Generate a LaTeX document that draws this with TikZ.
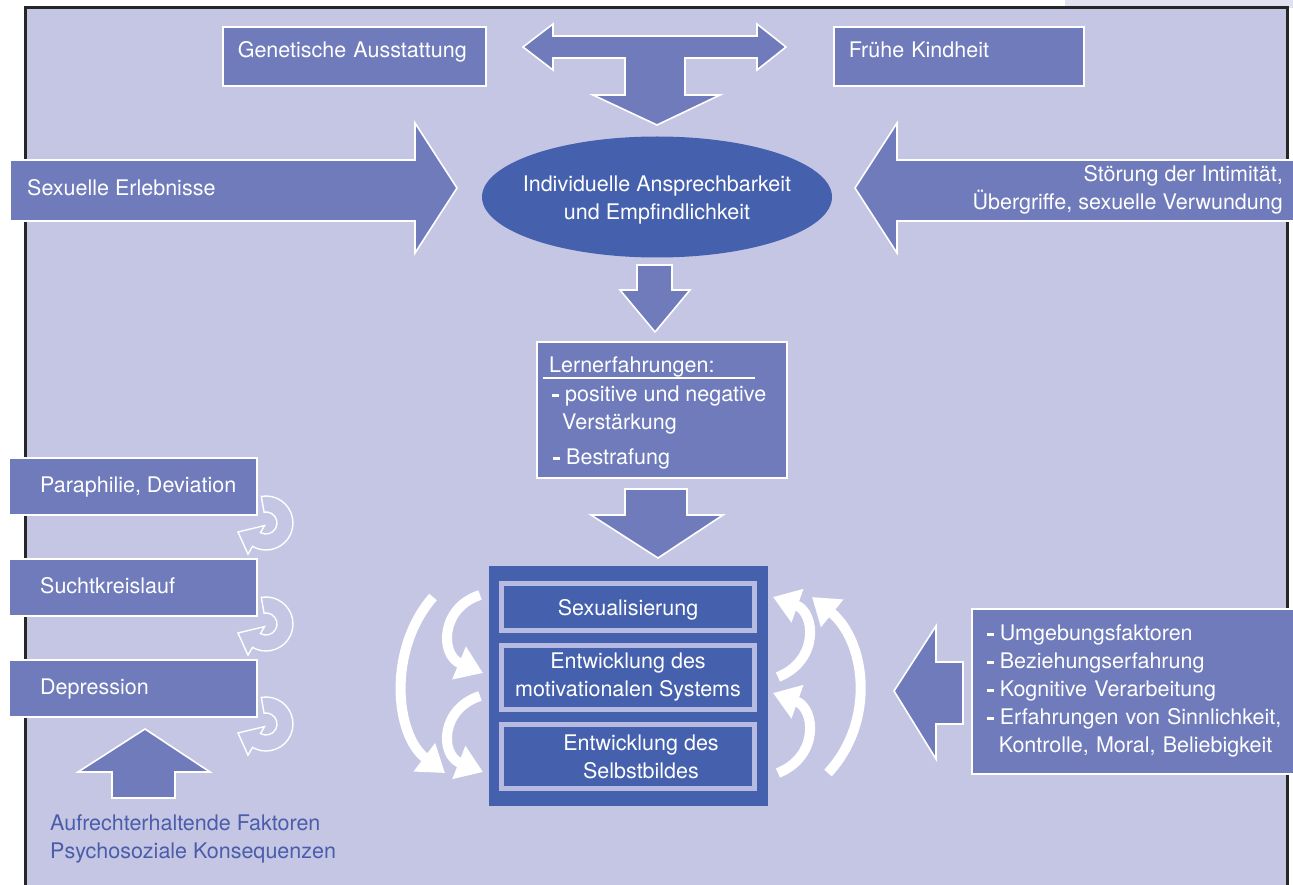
\documentclass[tikz,border=0pt]{standalone}
\usepackage{fontspec}
\setmainfont{TeX Gyre Heros}
\usetikzlibrary{arrows.meta, positioning, shapes.geometric, calc}

\definecolor{bgblue}{HTML}{C5C6E4}
\definecolor{boxblue}{HTML}{6F7BBB}
\definecolor{deepblue}{HTML}{4560AD}
\definecolor{rimblue}{HTML}{B7BBE2}
\definecolor{framegray}{HTML}{262626}
\definecolor{stripblue}{HTML}{E0E1F1}
\definecolor{textblue}{HTML}{4A5DAA}

\newcommand{\dashbar}{\rule[4.5pt]{7pt}{3pt}}

\begin{document}
\begin{tikzpicture}[
    x=1pt, y=-1pt,
    every node/.style={font=\fontsize{21.5}{28}\selectfont, text=white},
    box/.style={draw=white, line width=1.6pt, fill=boxblue, align=left},
    inbox/.style={draw=rimblue, line width=5pt, fill=deepblue, minimum width=253pt, align=center},
    blockarrow/.style={draw=white, line width=1.6pt, fill=boxblue},
    loopy/.style={draw=white, line width=1.4pt, fill=bgblue},
    swirl/.style={draw=white, line width=10pt, -{Triangle[length=26pt, width=34pt]}},
    lbl/.style={inner sep=0pt, align=left}
]

\useasboundingbox (0,0) rectangle (1293,885);
\clip (0,0) rectangle (1293,885);
\fill[white] (0,0) rectangle (1293,885);
\fill[stripblue] (1065,0) rectangle (1293,8);
\draw[framegray, line width=3pt, fill=bgblue] (25,8) rectangle (1287,900);

% top row
\node[box, anchor=north west, minimum width=263pt, minimum height=59pt, text width=233pt, inner xsep=15pt, text height=15pt, text depth=12pt] (gen) at (222,26) {Genetische Ausstattung};
\node[box, anchor=north west, minimum width=250pt, minimum height=59pt, text width=220pt, inner xsep=15pt, text height=15pt, text depth=12pt] (frueh) at (833,26) {Frühe Kindheit};

% T arrow
\draw[blockarrow] (523,47) -- (553,24) -- (553,36) -- (757,36) -- (757,24) -- (786,47) -- (757,70) -- (757,58) -- (685,58) -- (685,95) -- (720,95) -- (657,125) -- (593,95) -- (625,95) -- (625,58) -- (553,58) -- (553,70) -- cycle;

% ellipse
\node[ellipse, fill=deepblue, minimum width=350pt, minimum height=121pt] (ansp) at (657,197) {};
\node[lbl, align=center] (anspText) at ($(ansp)+(0,3)$) {Individuelle Ansprechbarkeit\\und Empfindlichkeit};

% side arrows
\draw[blockarrow] (10,160) -- (415,160) -- (415,123) -- (457,188) -- (415,253) -- (415,221) -- (10,221) -- cycle;
\node[lbl, anchor=west] (sexerl) at (27,188) {Sexuelle Erlebnisse};
\draw[blockarrow] (1300,160) -- (897,160) -- (897,123) -- (855,188) -- (897,253) -- (897,221) -- (1300,221) -- cycle;
\node[lbl, anchor=east, align=right] (stoer) at (1283,190) {Störung der Intimität,\\Übergriffe, sexuelle Verwundung};

% down to learning
\draw[blockarrow] (637,265) -- (672,265) -- (672,290) -- (690,290) -- (655,332) -- (620,290) -- (637,290) -- cycle;

\node[box, anchor=north west, minimum width=250pt, minimum height=136pt] (lern) at (536,341) {};
\node[lbl, anchor=north west] (lernText) at ($(lern.north west)+(13,16)$)
    {Lernerfahrungen:\\[1pt]
     \hspace*{3pt}\dashbar\hspace{6pt}positive und negative\\
     \hspace*{13pt}Verstärkung\\[7pt]
     \hspace*{4pt}\dashbar\hspace{6pt}Bestrafung};
\draw[white, line width=1.5pt] ($(lern.north west)+(7,37)$) -- ($(lern.north west)+(219,37)$);

\draw[blockarrow] (625,489) -- (687,489) -- (687,515) -- (723,515) -- (658,558) -- (591,515) -- (625,515) -- cycle;

% core block
\node[fill=deepblue, anchor=north west, minimum width=279pt, minimum height=240pt] (kern) at (489,566) {};
\node[inbox, minimum height=47pt, text depth=0pt] (sexu) at (628,607) {Sexualisierung};
\node[inbox, minimum height=64pt] (motiv) at (628,677.5) {Entwicklung des\\motivationalen Systems};
\node[inbox, minimum height=64pt] (selbst) at (628,756.5) {};
\node[lbl, align=center] (selbstText) at ($(selbst)+(13,0)$) {Entwicklung des\\Selbstbildes};

% swirls left
\draw[swirl] (433,597) .. controls (387,650) and (395,735) .. (445,773);
\draw[swirl] (480,595) .. controls (440,608) and (440,655) .. (483,673);
\draw[swirl] (480,696) .. controls (440,709) and (440,755) .. (483,772);

% swirls right
\draw[swirl] (778,677) .. controls (820,660) and (815,612) .. (773,597);
\draw[swirl] (778,773) .. controls (820,756) and (815,708) .. (773,693);
\draw[swirl] (828,773) .. controls (877,720) and (865,640) .. (812,597);

% environment
\draw[blockarrow] (894,691) -- (936,626) -- (936,662) -- (963,662) -- (963,724) -- (936,724) -- (936,759) -- cycle;
\node[box, anchor=north west, minimum width=340pt, minimum height=165pt, text width=310pt, inner xsep=15pt] (umfeld) at (971,608)
    {\dashbar\hspace{6pt}Umgebungsfaktoren\\
     \dashbar\hspace{6pt}Beziehungserfahrung\\
     \dashbar\hspace{6pt}Kognitive Verarbeitung\\
     \dashbar\hspace{6pt}Erfahrungen von Sinnlichkeit,\\
     \hspace*{12pt}Kontrolle, Moral, Beliebigkeit};

% left column
\node[box, anchor=north west, minimum width=248pt, minimum height=57pt] (para) at (8,457) {};
\node[lbl, text depth=0pt, right=32pt of para.west, yshift=2pt] (paraText) {Paraphilie, Deviation};
\node[box, anchor=north west, minimum width=248pt, minimum height=57pt] (sucht) at (8,558) {};
\node[lbl, text depth=0pt, right=32pt of sucht.west, yshift=2pt] (suchtText) {Suchtkreislauf};
\node[box, anchor=north west, minimum width=248pt, minimum height=57pt] (depr) at (8,659) {};
\node[lbl, text depth=0pt, right=32pt of depr.west, yshift=2pt] (deprText) {Depression};

% loops
\coordinate (loopA) at (266,523);
\coordinate (loopB) at (266,624);
\coordinate (loopC) at (266,724);
\draw[loopy] ($(loopA)+(-100:27)$) arc[start angle=-100, end angle=120, radius=27] -- ($(loopA)+(120:36)$) -- ($(loopA)+(-28,9)$) -- ($(loopA)+(120:3)$) -- ($(loopA)+(120:11)$) arc[start angle=120, end angle=-100, radius=11] -- cycle;
\draw[loopy] ($(loopB)+(-100:27)$) arc[start angle=-100, end angle=120, radius=27] -- ($(loopB)+(120:36)$) -- ($(loopB)+(-28,9)$) -- ($(loopB)+(120:3)$) -- ($(loopB)+(120:11)$) arc[start angle=120, end angle=-100, radius=11] -- cycle;
\draw[loopy] ($(loopC)+(-100:27)$) arc[start angle=-100, end angle=120, radius=27] -- ($(loopC)+(120:36)$) -- ($(loopC)+(-28,9)$) -- ($(loopC)+(120:3)$) -- ($(loopC)+(120:11)$) arc[start angle=120, end angle=-100, radius=11] -- cycle;

% up arrow and caption
\draw[blockarrow] (145,729) -- (210,772) -- (175,772) -- (175,798) -- (112,798) -- (112,772) -- (78,772) -- cycle;
\node[lbl, anchor=west, text=textblue] (faktoren) at (50,839) {Aufrechterhaltende Faktoren\\Psychosoziale Konsequenzen};

\end{tikzpicture}
\end{document}
